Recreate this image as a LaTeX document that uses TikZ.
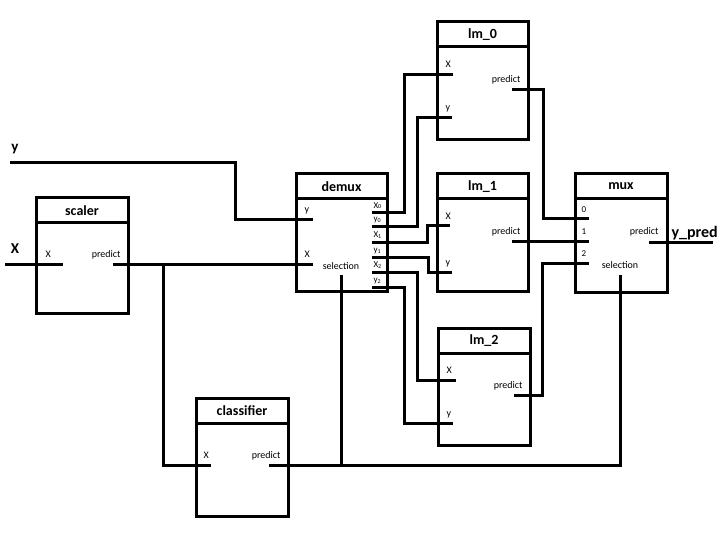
\documentclass[tikz,border=0pt]{standalone}
\usepackage{fontspec}
\setmainfont{Carlito}
\newcommand{\mkblock}[6]{%
  \node[blk, minimum width=#4pt, minimum height=#5pt] (#1) at (#2,#3) {};
  \draw ([yshift=-25pt]#1.north west) -- ([yshift=-25pt]#1.north east);
  \node[ttl] at ([yshift=-12.5pt]#1.north) {#6};}
\begin{document}
\begin{tikzpicture}[x=1pt,y=-1pt, line width=3pt, line join=miter,
  blk/.style={draw, rectangle, line width=3pt, inner sep=0pt, outer sep=0pt, anchor=north west},
  ttl/.style={font=\fontsize{14}{16}\selectfont\bfseries, inner sep=0pt},
  plab/.style={font=\fontsize{10}{12}\selectfont, inner sep=0pt},
  slab/.style={font=\fontsize{9}{11}\selectfont, inner sep=0pt},
  big/.style={font=\fontsize{15}{17}\selectfont\bfseries, inner sep=0pt}]
\useasboundingbox (0,0) rectangle (720,540);

% blocks
\mkblock{scaler}{36}{198}{92}{115}{scaler}
\mkblock{demux}{296}{174}{91}{117}{demux}
\mkblock{lm0}{437}{22}{91}{118}{lm\_0}
\mkblock{lm1}{437}{174}{91}{117}{lm\_1}
\mkblock{lm2}{438}{328}{92}{117}{lm\_2}
\mkblock{mux}{575}{174}{92}{118}{mux}
\mkblock{clf}{196}{398}{92}{118}{classifier}

% ports
\coordinate (sX) at (36,264);   \coordinate (sP) at (128,264);
\coordinate (dY) at (296,220);  \coordinate (dX) at (296,264);
\coordinate (dSel) at (341,291);
\coordinate (dX0) at (387,213); \coordinate (dy0) at (387,227);
\coordinate (dX1) at (387,242); \coordinate (dy1) at (387,257);
\coordinate (dX2) at (387,272); \coordinate (dy2) at (387,287);
\coordinate (l0X) at (437,75);  \coordinate (l0y) at (437,118); \coordinate (l0P) at (528,90);
\coordinate (l1X) at (437,226); \coordinate (l1y) at (437,272); \coordinate (l1P) at (528,241);
\coordinate (l2X) at (438,380); \coordinate (l2y) at (438,423); \coordinate (l2P) at (530,395);
\coordinate (m0) at (575,219);  \coordinate (m1) at (575,241);  \coordinate (m2) at (575,263);
\coordinate (mP) at (667,242);  \coordinate (mSel) at (620,292);
\coordinate (cX) at (196,465);  \coordinate (cP) at (288,465);
\coordinate (Xin) at (5,264);   \coordinate (yin) at (10,163);  \coordinate (yout) at (713,242);
\coordinate (branch) at (163,264); \coordinate (join) at (341,465);

% stubs
\draw (sX) -- ++(27,0);  \draw (sP) -- ++(-15,0);
\draw (dY) -- ++(17,0);  \draw (dX) -- ++(17,0);  \draw (dSel) -- ++(0,-16);
\foreach \p in {dX0,dy0,dX1,dy1,dX2,dy2} \draw (\p) -- ++(-15,0);
\draw (l0X) -- ++(16,0); \draw (l0y) -- ++(15,0); \draw (l0P) -- ++(-16,0);
\draw (l1X) -- ++(13,0); \draw (l1y) -- ++(15,0); \draw (l1P) -- ++(-16,0);
\draw (l2X) -- ++(18,0); \draw (l2y) -- ++(15,0); \draw (l2P) -- ++(-16,0);
\draw (m0) -- ++(14,0);  \draw (m1) -- ++(14,0);  \draw (m2) -- ++(14,0);
\draw (mP) -- ++(-18,0); \draw (mSel) -- ++(0,-17);
\draw (cX) -- ++(15,0);  \draw (cP) -- ++(-19,0);

% connectors
\draw (Xin) -- (sX);
\draw (yin) -- (235,163) -- (235,220) -- (dY);
\draw (sP) -- (dX);
\draw (branch) -- (163,465) -- (cX);
\draw (dX0) -- (404,213) -- (404,75) -- (l0X);
\draw (dy0) -- (417,227) -- (417,118) -- (l0y);
\draw (dX1) -- (427,242) -- (427,226) -- (l1X);
\draw (dy1) -- (428,257) -- (428,272) -- (l1y);
\draw (dX2) -- (417,272) -- (417,380) -- (l2X);
\draw (dy2) -- (404,287) -- (404,423) -- (l2y);
\draw (l0P) -- (543,90) -- (543,219) -- (m0);
\draw (l1P) -- (m1);
\draw (l2P) -- (542,395) -- (542,263) -- (m2);
\draw (mP) -- (yout);
\draw (mSel) -- (620,465) -- (cP);
\draw (dSel) -- (join);

% port labels
\node[plab, anchor=base west] at (44,257) {X};
\node[plab, anchor=base east] at (122,257) {predict};
\node[plab, anchor=base west] at (303,213) {y};
\node[plab, anchor=base west] at (303,257) {X};
\node[plab, anchor=base] at (341,269) {selection};
\node[slab, anchor=base west] at (372,208) {X\textsubscript{0}};
\node[slab, anchor=base west] at (372,222) {y\textsubscript{0}};
\node[slab, anchor=base west] at (372,237) {X\textsubscript{1}};
\node[slab, anchor=base west] at (372,252) {y\textsubscript{1}};
\node[slab, anchor=base west] at (372,267) {X\textsubscript{2}};
\node[slab, anchor=base west] at (372,282) {y\textsubscript{2}};
\node[plab, anchor=base west] at (444,68) {X};
\node[plab, anchor=base west] at (444,111) {y};
\node[plab, anchor=base east] at (522,83) {predict};
\node[plab, anchor=base west] at (444,219) {X};
\node[plab, anchor=base west] at (444,265) {y};
\node[plab, anchor=base east] at (522,234) {predict};
\node[plab, anchor=base west] at (445,373) {X};
\node[plab, anchor=base west] at (445,416) {y};
\node[plab, anchor=base east] at (524,388) {predict};
\node[slab, anchor=base west] at (580,212) {0};
\node[slab, anchor=base west] at (580,234) {1};
\node[slab, anchor=base west] at (580,256) {2};
\node[plab, anchor=base east] at (660,235) {predict};
\node[plab, anchor=base] at (620,268) {selection};
\node[plab, anchor=base west] at (202,458) {X};
\node[plab, anchor=base east] at (282,458) {predict};

% external labels
\node[big, anchor=base] at (15,253) {X};
\node[big, anchor=base] at (15,152) {y};
\node[big, anchor=base west, font=\fontsize{16}{18}\selectfont\bfseries] at (670,237) {y\_pred};
\end{tikzpicture}
\end{document}
